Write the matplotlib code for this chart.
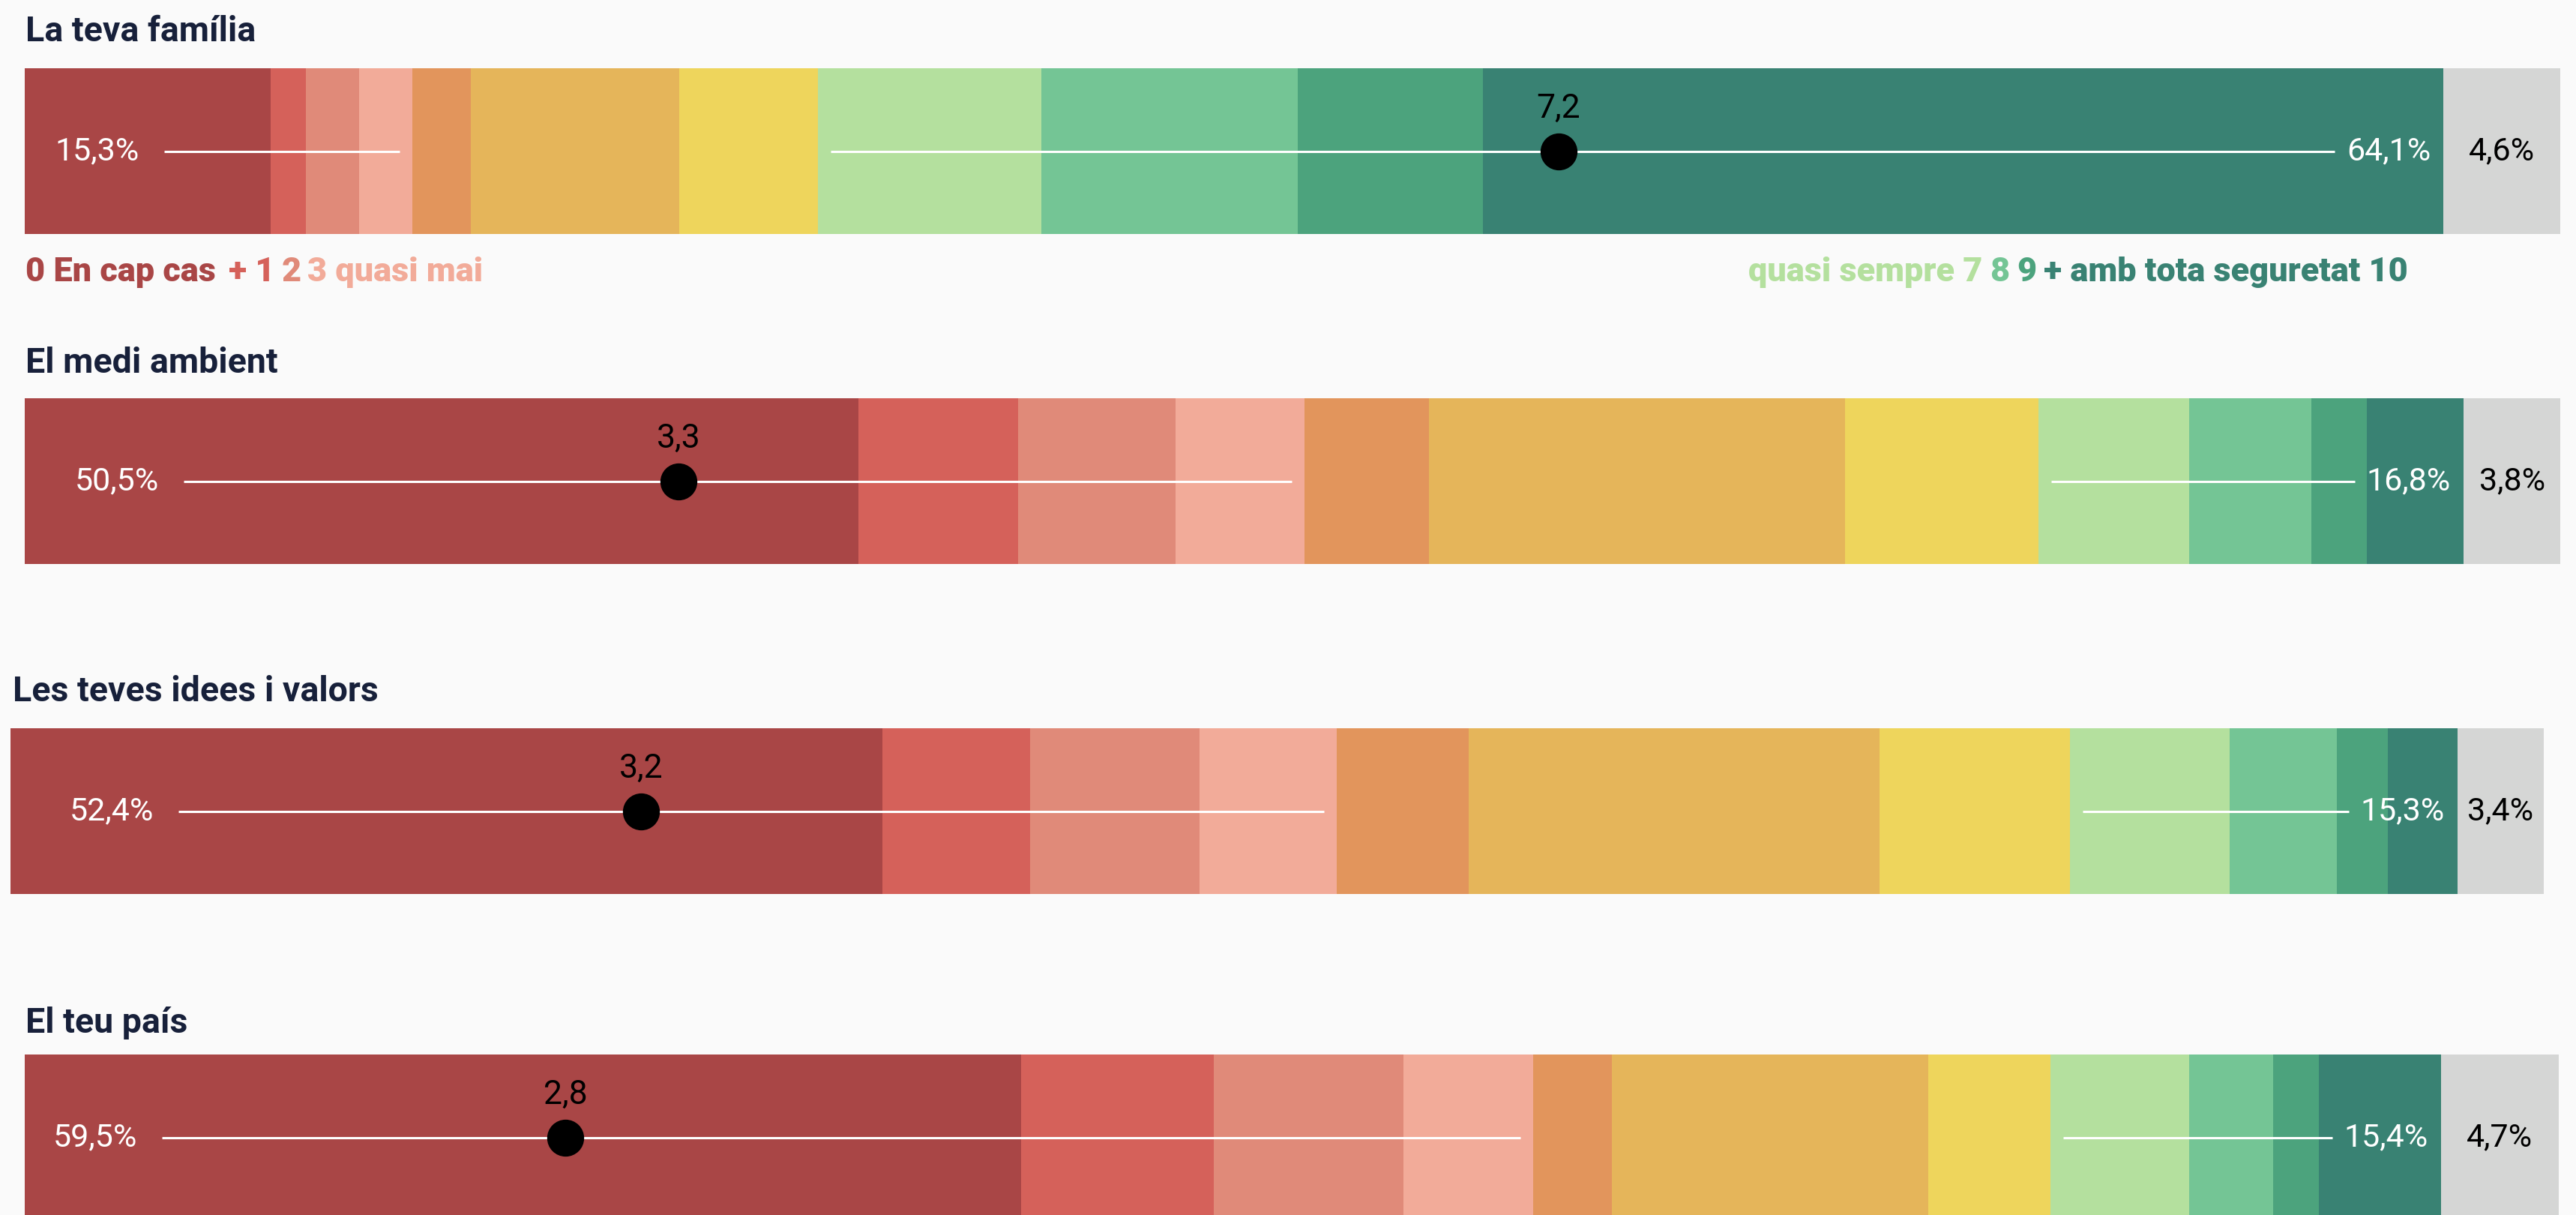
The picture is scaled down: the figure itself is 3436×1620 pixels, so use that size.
import matplotlib
matplotlib.use("Agg")
import matplotlib.pyplot as plt
import numpy as np

# ---------------- data ----------------
categories = ["La teva família", "El medi ambient", "Les teves idees i valors", "El teu país"]
scores = ["0", "1", "2", "3", "4", "5", "6", "7", "8", "9", "10", "NS"]

pct_familia = [9.70, 1.39, 2.10, 2.10, 2.31, 8.20, 5.47, 8.81, 10.11, 7.30, 37.90, 4.60]
pct_medi = [32.88, 6.30, 6.21, 5.09, 4.91, 16.41, 7.63, 5.94, 4.82, 2.19, 3.81, 3.81]
pct_idees = [34.42, 5.83, 6.69, 5.42, 5.21, 16.20, 7.52, 6.30, 4.24, 2.01, 2.76, 3.40]
pct_pais = [39.32, 7.60, 7.49, 5.12, 3.11, 12.49, 4.82, 5.47, 3.31, 1.80, 4.82, 4.65]

low_share = [15.3, 50.5, 52.4, 59.5]    # 0-3
high_share = [64.1, 16.8, 15.3, 15.4]   # 7-10
ns_share = [4.6, 3.8, 3.4, 4.7]
means = [7.2, 3.3, 3.2, 2.8]

legend_low = ["0 En cap cas", "+ 1", "2", "3 quasi mai"]
legend_high = ["quasi sempre 7", "8", "9", "+ amb tota seguretat 10"]

# ---------------- style ----------------
colors = ["#a94646", "#d5615a", "#e08a79", "#f2ab99", "#e2955c", "#e5b55a",
          "#eed55c", "#b4e09e", "#74c595", "#4ca37d", "#398273", "#d5d6d5"]
legend_low_colors = [colors[0], colors[1], colors[2], colors[3]]
legend_high_colors = [colors[7], colors[8], colors[9], colors[10]]
BG = "#fafafa"
TITLE_C = "#17203a"

plt.rcParams['font.family'] = ['Roboto', 'DejaVu Sans']

FIG_W, FIG_H = 3437, 1620
BAR_H = 221
bar_top = [91, 531, 971, 1406]
bar_left = [33, 33, 14, 33]
bar_right = [3415, 3415, 3393, 3413]
title_left = [34, 34, 17, 34]
title_base = [55, 497, 935, 1377]
line_start_rel = [186, 212, 224, 183]

def fx(px):
    return px / FIG_W

def fy(py):
    return 1 - py / FIG_H

def fmt(v, d=1):
    return f"{v:.{d}f}".replace(".", ",")

fig = plt.figure(figsize=(FIG_W / 100, FIG_H / 100), dpi=100, facecolor=BG)

rows = [pct_familia, pct_medi, pct_idees, pct_pais]
for i, cat in enumerate(categories):
    L, R, T = bar_left[i], bar_right[i], bar_top[i]
    W = R - L
    ax = fig.add_axes([fx(L), fy(T + BAR_H), W / FIG_W, BAR_H / FIG_H])
    vals = np.array(rows[i])
    cum = np.cumsum(vals)
    lefts = cum - vals
    ax.barh(0.5, vals, left=lefts, height=1.0, color=colors, edgecolor='none')
    ax.set_xlim(0, cum[-1])
    ax.set_ylim(0, 1)
    ax.axis('off')
    px = cum[-1] / W  # data units per pixel

    # left (0-3) line and label
    ls = line_start_rel[i] * px
    ax.plot([ls, cum[3] - 17 * px], [0.5, 0.5], color='white', lw=2.2,
            solid_capstyle='butt', zorder=3)
    ax.text(ls - 33 * px, 0.5, fmt(low_share[i]) + "%", ha='right', va='center',
            color='white', fontsize=31, fontweight='normal', zorder=4)

    # right (7-10) line and label
    ax.plot([lefts[7] + 17 * px, cum[10] - 145 * px], [0.5, 0.5], color='white',
            lw=2.2, solid_capstyle='butt', zorder=3)
    ax.text(cum[10] - 17 * px, 0.5, fmt(high_share[i]) + "%", ha='right', va='center',
            color='white', fontsize=31, fontweight='normal', zorder=4)

    # NS label
    ax.text(lefts[11] + vals[11] / 2, 0.5, fmt(ns_share[i]) + "%", ha='center',
            va='center', color='black', fontsize=31, fontweight='normal', zorder=4)

    # mean dot on its own 0-10 scale
    axm = ax.twiny()
    axm.set_xlim(0.402, 11.64)
    axm.axis('off')
    axm.plot([means[i]], [0.5], 'o', ms=34.5, color='black', zorder=5)
    axm.text(means[i], 0.5 + 45 / BAR_H, fmt(means[i]), ha='center', va='baseline',
             color='black', fontsize=32, fontweight='normal')

    # title
    fig.text(fx(title_left[i]), fy(title_base[i]), cat, ha='left', va='baseline',
             fontsize=33.5, fontweight='bold', color=TITLE_C)

# legend under the first bar
LEG_FS = 32.5
prev = fig.text(fx(34), fy(375), legend_low[0], ha='left', va='baseline',
                fontsize=LEG_FS, fontweight='heavy', color=legend_low_colors[0])
gaps = [12, 7, 6]
for txt, c, g in zip(legend_low[1:], legend_low_colors[1:], gaps):
    prev = fig.axes[0].annotate(
        txt, xy=(1, 0), xycoords=prev, xytext=(g, 0), textcoords='offset points',
        ha='left', va='bottom', fontsize=LEG_FS, fontweight='heavy', color=c,
        annotation_clip=False)

prev = fig.text(fx(3212), fy(375), legend_high[-1], ha='right', va='baseline',
                fontsize=LEG_FS, fontweight='heavy', color=legend_high_colors[-1])
for txt, c in zip(legend_high[:-1][::-1], legend_high_colors[:-1][::-1]):
    prev = fig.axes[0].annotate(
        txt, xy=(0, 0), xycoords=prev, xytext=(-7, 0), textcoords='offset points',
        ha='right', va='bottom', fontsize=LEG_FS, fontweight='heavy', color=c,
        annotation_clip=False)

fig.savefig("out.png", dpi=100, facecolor=BG)
